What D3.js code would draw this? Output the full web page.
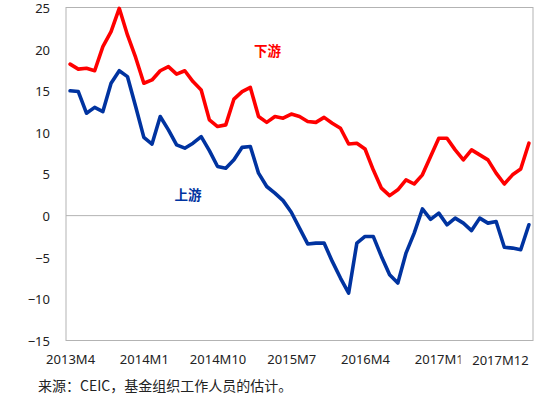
<!DOCTYPE html>
<html>
<head>
<meta charset="utf-8">
<script src="https://cdn.jsdelivr.net/npm/d3@7"></script>
<style>
  html, body { margin: 0; padding: 0; background: #fff; }
  svg { display: block; }
  text { font-family: "Noto Sans", "Noto Sans CJK SC", sans-serif; }
</style>
</head>
<body>
<svg id="chart" width="534" height="394"></svg>
<script>
// ---- data ----
const months = [];
for (let y = 2013, m = 4; y < 2018; ) {
  months.push(y + "M" + m);
  m++; if (m > 12) { m = 1; y++; }
}
const downstream = [18.2,17.6,17.7,17.4,20.3,22.1,24.9,21.7,19.0,15.9,
  16.3,17.4,17.9,17.0,17.4,16.1,15.1,11.5,10.7,10.9,
  14.0,14.9,15.4,11.9,11.2,11.9,11.7,12.2,11.9,11.3,
  11.2,11.8,11.1,10.5,8.6,8.7,8.0,5.5,3.3,2.4,
  3.1,4.3,3.8,4.9,7.1,9.3,9.3,7.9,6.7,7.9,
  7.3,6.7,5.1,3.8,4.9,5.6,8.7];
const upstream = [15.0,14.9,12.3,13.0,12.5,15.9,17.4,16.7,13.1,9.4,
  8.6,11.9,10.3,8.5,8.1,8.7,9.5,7.8,5.9,5.7,
  6.7,8.2,8.3,5.1,3.5,2.7,1.8,0.4,-1.5,-3.4,
  -3.3,-3.3,-5.5,-7.5,-9.3,-3.3,-2.5,-2.5,-4.9,-7.1,
  -8.1,-4.5,-2.1,0.8,-0.45,0.3,-1.1,-0.3,-0.9,-1.8,
  -0.3,-0.9,-0.7,-3.8,-3.9,-4.1,-1.1];
const xTickLabels = ["2013M4","2014M1","2014M10","2015M7","2016M4","2017M1","2017M12"];
const yTicks = [-15,-10,-5,0,5,10,15,20,25];
const seriesNames = ["下游","上游"];
const sourceNote = "来源：CEIC，基金组织工作人员的估计。";

// ---- layout ----
const svg = d3.select("#chart");
const L = 66, R = 533, T = 7.5, B = 340.5;
const x = d3.scalePoint().domain(months).range([L, R]).padding(0.5);
const y = d3.scaleLinear().domain([-15, 25]).range([B, T]);

// frame
svg.append("rect").attr("x", L).attr("y", T).attr("width", R - L).attr("height", B - T)
  .attr("fill", "none").attr("stroke", "#b3b3b3").attr("stroke-width", 1);
// zero line
svg.append("line").attr("x1", L).attr("x2", R).attr("y1", y(0)).attr("y2", y(0))
  .attr("stroke", "#b3b3b3").attr("stroke-width", 1);

// y axis
const yAxis = svg.append("g").attr("transform", `translate(${L},0.8)`)
  .call(d3.axisLeft(y).tickValues(yTicks).tickSize(0).tickPadding(16));
yAxis.select(".domain").remove();
yAxis.selectAll("text").attr("font-size", 13).attr("fill", "#222")
  .style("font-family", '"Noto Sans", sans-serif');

// x axis labels
const xAxis = svg.append("g").attr("transform", `translate(0,${B})`)
  .call(d3.axisBottom(x).tickValues(xTickLabels).tickSize(0).tickPadding(14));
xAxis.select(".domain").remove();
xAxis.selectAll("text").attr("font-size", 13).attr("fill", "#222")
  .style("font-family", '"Noto Sans", sans-serif');
// clip for the overlapped label (in the tick's local coordinates) and shift the last one
const m1x = x("2017M1");
const defs = svg.append("defs");
defs.append("clipPath").attr("id", "clipM1").append("rect")
  .attr("x", -100).attr("y", -50).attr("width", 460 - m1x + 100).attr("height", 100);
xAxis.selectAll(".tick").filter(d => d === "2017M1").select("text").attr("clip-path", "url(#clipM1)");
xAxis.selectAll(".tick").filter(d => d === "2017M12").select("text")
  .attr("dx", -29).attr("y", 15);

// lines
const line = d3.line().x((d, i) => x(months[i])).y(d => y(d));
svg.append("path").datum(downstream).attr("d", line)
  .attr("fill", "none").attr("stroke", "#ff0000").attr("stroke-width", 3.6)
  .attr("stroke-linejoin", "round").attr("stroke-linecap", "round");
svg.append("path").datum(upstream).attr("d", line)
  .attr("fill", "none").attr("stroke", "#0033a0").attr("stroke-width", 3.6)
  .attr("stroke-linejoin", "round").attr("stroke-linecap", "round");

// series labels
svg.append("text").attr("x", 267.5).attr("y", 50).attr("text-anchor", "middle")
  .attr("dominant-baseline", "central").attr("font-size", 13.5).attr("font-weight", "bold")
  .attr("fill", "#ff0000").style("font-family", '"Noto Sans CJK SC", sans-serif')
  .text(seriesNames[0]);
svg.append("text").attr("x", 188).attr("y", 193.5).attr("text-anchor", "middle")
  .attr("dominant-baseline", "central").attr("font-size", 13.5).attr("font-weight", "bold")
  .attr("fill", "#0033a0").style("font-family", '"Noto Sans CJK SC", sans-serif')
  .text(seriesNames[1]);

// source note
svg.append("text").attr("x", 38).attr("y", 385).attr("dominant-baseline", "central")
  .attr("font-size", 14).attr("fill", "#222")
  .style("font-family", '"Noto Sans CJK SC", sans-serif')
  .text(sourceNote);
</script>
</body>
</html>
